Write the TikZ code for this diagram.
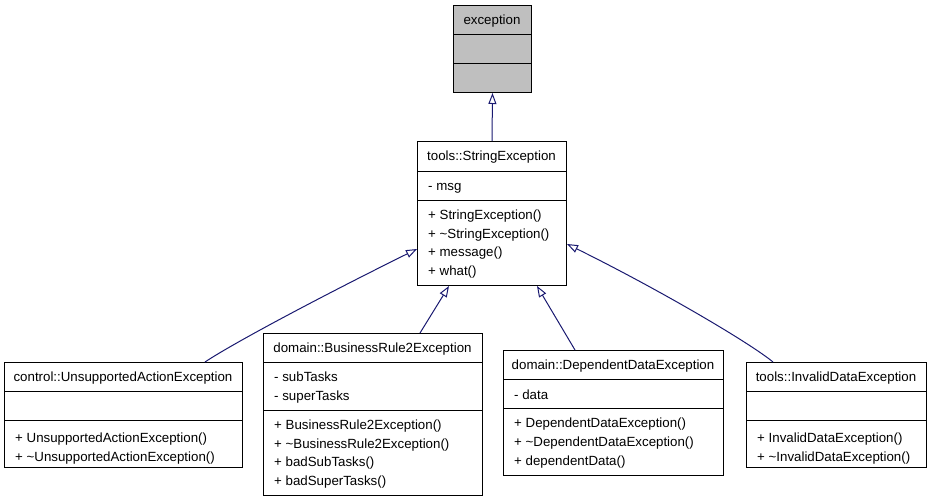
\documentclass[tikz,border=0pt]{standalone}
\usepackage{fontspec}
\setmainfont{Liberation Sans}
\usetikzlibrary{arrows.meta,calc}
\definecolor{edgec}{RGB}{25,25,112}
\definecolor{topfill}{RGB}{191,191,191}
\newcommand\dfont{\fontsize{13.3}{16}\selectfont}
\tikzset{
  cls/.style={draw=black, line width=1pt, rectangle, inner sep=0pt, anchor=north west},
  sep/.style={draw=black, line width=1pt},
  txt/.style={inner sep=0pt, anchor=west, font=\dfont, text height=9.6pt, text depth=0pt},
  ttl/.style={inner sep=0pt, font=\dfont, text height=9.6pt, text depth=0pt},
  inh/.style={draw=edgec, line width=1pt, -{Triangle[open, length=11pt, width=8pt]}},
}
\begin{document}
\begin{tikzpicture}[x=1pt, y=-1pt]
\useasboundingbox (0,0) rectangle (931,501);

% exception
\node[cls, fill=topfill, minimum width=78, minimum height=87] (exc) at (453,5) {};
\draw[sep] (453,34) -- (531,34);
\draw[sep] (453,63) -- (531,63);
\node[ttl] (exct) at (492,19.5) {exception};

% tools::StringException
\node[cls, minimum width=149, minimum height=144] (strx) at (417,141) {};
\draw[sep] (417,171) -- (566,171);
\draw[sep] (417,200) -- (566,200);
\node[ttl] (strxt) at (491.5,156) {tools::StringException};
\node[txt] (strxa) at (428,185.5) {- msg};
\node[txt] (strxm1) at (428,214.5) {+ StringException()};
\node[txt] (strxm2) at (428,233.2) {+ \textasciitilde StringException()};
\node[txt] (strxm3) at (428,251.9) {+ message()};
\node[txt] (strxm4) at (428,270.6) {+ what()};

% control::UnsupportedActionException
\node[cls, minimum width=238, minimum height=105] (ctrl) at (4,362) {};
\draw[sep] (4,391) -- (242,391);
\draw[sep] (4,420) -- (242,420);
\node[ttl] (ctrlt) at (123,376.5) {control::UnsupportedActionException};
\node[txt] (ctrlm1) at (15,437.5) {+ UnsupportedActionException()};
\node[txt] (ctrlm2) at (15,456.2) {+ \textasciitilde UnsupportedActionException()};

% domain::BusinessRule2Exception
\node[cls, minimum width=219, minimum height=162] (br2) at (263,333) {};
\draw[sep] (263,362) -- (482,362);
\draw[sep] (263,410) -- (482,410);
\node[ttl] (br2t) at (372.5,347.5) {domain::BusinessRule2Exception};
\node[txt] (br2a1) at (274,376.6) {- subTasks};
\node[txt] (br2a2) at (274,395.3) {- superTasks};
\node[txt] (br2m1) at (274,424.5) {+ BusinessRule2Exception()};
\node[txt] (br2m2) at (274,443.2) {+ \textasciitilde BusinessRule2Exception()};
\node[txt] (br2m3) at (274,461.9) {+ badSubTasks()};
\node[txt] (br2m4) at (274,480.6) {+ badSuperTasks()};

% domain::DependentDataException
\node[cls, minimum width=220, minimum height=125] (dep) at (503,350) {};
\draw[sep] (503,379) -- (723,379);
\draw[sep] (503,408) -- (723,408);
\node[ttl] (dept) at (613,365) {domain::DependentDataException};
\node[txt] (depa) at (514,394.5) {- data};
\node[txt] (depm1) at (514,423) {+ DependentDataException()};
\node[txt] (depm2) at (514,441.7) {+ \textasciitilde DependentDataException()};
\node[txt] (depm3) at (514,460.4) {+ dependentData()};

% tools::InvalidDataException
\node[cls, minimum width=180, minimum height=105] (inv) at (746,362) {};
\draw[sep] (746,391) -- (926,391);
\draw[sep] (746,420) -- (926,420);
\node[ttl] (invt) at (836,376.5) {tools::InvalidDataException};
\node[txt] (invm1) at (757,437.5) {+ InvalidDataException()};
\node[txt] (invm2) at (757,456.2) {+ \textasciitilde InvalidDataException()};

% inheritance edges
\draw[inh] (strx.north) -- (exc.south);
\draw[inh] ($(ctrl.north west)+(201,0)$) .. controls (235,342) and (330,292) .. ($(strx.north west)+(0,108)$);
\draw[inh] ($(br2.north west)+(157,0)$) -- ($(strx.south west)+(32,0)$);
\draw[inh] ($(dep.north west)+(72,0)$) -- ($(strx.south west)+(120,0)$);
\draw[inh] ($(inv.north west)+(27,0)$) .. controls (750,343) and (660,290) .. ($(strx.north east)+(0,103)$);
\end{tikzpicture}
\end{document}
